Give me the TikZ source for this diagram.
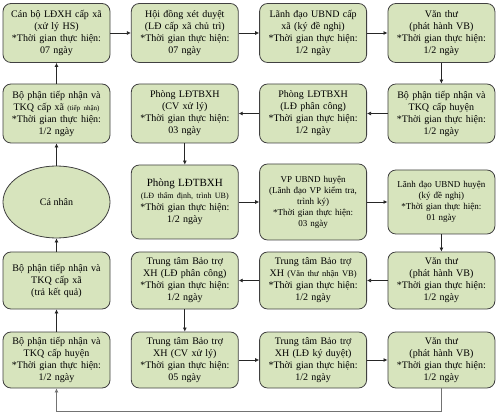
\documentclass[tikz,border=0pt]{standalone}
\usepackage{fontspec}
\setmainfont{Liberation Serif}
\usetikzlibrary{arrows.meta,positioning,shapes.geometric}
\definecolor{boxfill}{RGB}{215,228,189}
\definecolor{boxline}{RGB}{64,64,64}
\newcommand{\subnote}[2]{{\fontsize{#1}{#1}\selectfont #2}}
\newcommand{\thoigian}{{}*Thời gian thực hiện:}

\begin{document}
\begin{tikzpicture}[
    x=1pt, y=-1pt,
    node distance=20.5pt,
    every node/.style={font=\fontsize{10}{12}\selectfont},
    box/.style={draw=boxline, line width=0.8pt, rounded corners=8pt, fill=boxfill, align=center, text width=104pt, minimum width=107pt, minimum height=59pt, inner sep=1pt},
    person/.style={ellipse, draw=boxline, line width=0.8pt, fill=boxfill, minimum width=107pt, minimum height=72pt, inner sep=0pt},
    small/.style={font=\fontsize{9}{11}\selectfont},
    flow/.style={-{Latex[length=4pt,width=4pt]}, line width=0.7pt, draw=black!85},
    giveback/.style={-{Latex[length=4pt,width=4pt]}, line width=1.6pt, draw=black!55}
]
\useasboundingbox (0,0) rectangle (497,419);
% row 1: cap xa
\node[box] (xaCB) at (56.5,33) {Cán bộ LĐXH cấp xã\\(xử lý HS)\\\thoigian\\07 ngày};
\node[box, right=of xaCB] (hoidong) {Hội đồng xét duyệt\\(LĐ cấp xã chủ trì)\\\thoigian\\07 ngày};
\node[box, right=of hoidong] (xaLD) {Lãnh đạo UBND cấp\\xã (ký đề nghị)\\\thoigian\\1/2 ngày};
\node[box, right=of xaLD] (xaVT) {Văn thư\\(phát hành VB)\\\thoigian\\1/2 ngày};
% row 2
\node[box] (xaTN) at (56.5,113.5) {Bộ phận tiếp nhận và\\TKQ cấp xã \subnote{7}{(tiếp nhận)}\\\thoigian\\1/2 ngày};
\node[box, right=of xaTN] (phongCV) {Phòng LĐTBXH\\(CV xử lý)\\\thoigian\\03 ngày};
\node[box, right=of phongCV] (phongLD) {Phòng LĐTBXH\\(LĐ phân công)\\\thoigian\\1/2 ngày};
\node[box, right=of phongLD] (huyenTN) {Bộ phận tiếp nhận và\\TKQ cấp huyện\\\thoigian\\1/2 ngày};
% row 3: cap huyen
\node[person] (canhan) at (56.5,202) {Cá nhân};
\node[box, minimum height=74pt, right=of canhan] (phongTD) {\subnote{11}{Phòng LĐTBXH}\\\subnote{8}{(LĐ thẩm định, trình UB)}\\\thoigian\\1/2 ngày};
\node[box, small, minimum height=76pt, right=of phongTD] (vpUB) {VP UBND huyện\\(Lãnh đạo VP kiểm tra,\\trình ký)\\\thoigian\\03 ngày};
\node[box, small, minimum height=64pt, right=of vpUB] (huyenLD) {Lãnh đạo UBND huyện\\(ký đề nghị)\\\thoigian\\01 ngày};
% row 4
\node[box, minimum height=57pt] (xaTKQ) at (56.5,280.5) {Bộ phận tiếp nhận và\\TKQ cấp xã\\(trả kết quả)};
\node[box, minimum height=57pt, right=of xaTKQ] (ttLD) {Trung tâm Bảo trợ\\XH (LĐ phân công)\\\thoigian\\1/2 ngày};
\node[box, minimum height=57pt, right=of ttLD] (ttVT) {Trung tâm Bảo trợ\\XH \subnote{8.5}{(Văn thư nhận VB)}\\\thoigian\\1/2 ngày};
\node[box, minimum height=57pt, right=of ttVT] (huyenVT) {Văn thư\\(phát hành VB)\\\thoigian\\1/2 ngày};
% row 5: trung tam
\node[box, minimum height=56pt] (huyenTKQ) at (56.5,360) {Bộ phận tiếp nhận và\\TKQ cấp huyện\\\thoigian\\1/2 ngày};
\node[box, minimum height=56pt, right=of huyenTKQ] (ttCV) {Trung tâm Bảo trợ\\XH (CV xử lý)\\\thoigian\\05 ngày};
\node[box, minimum height=56pt, right=of ttCV] (ttKD) {Trung tâm Bảo trợ\\XH (LĐ ký duyệt)\\\thoigian\\1/2 ngày};
\node[box, minimum height=56pt, right=of ttKD] (ttPH) {Văn thư\\(phát hành VB)\\\thoigian\\1/2 ngày};

\draw[flow] (xaCB) -- (hoidong);
\draw[flow] (hoidong) -- (xaLD);
\draw[flow] (xaLD) -- (xaVT);
\draw[flow] (xaVT) -- (huyenTN);
\draw[flow] (huyenTN) -- (phongLD);
\draw[flow] (phongLD) -- (phongCV);
\draw[flow] (phongCV) -- (phongTD);
\draw[flow] (phongTD) -- (vpUB);
\draw[flow] (vpUB) -- (huyenLD);
\draw[flow] (huyenLD) -- (huyenVT);
\draw[flow] (huyenVT) -- (ttVT);
\draw[flow] (ttVT) -- (ttLD);
\draw[flow] (ttLD) -- (ttCV);
\draw[flow] (ttCV) -- (ttKD);
\draw[flow] (ttKD) -- (ttPH);
\draw[giveback] (ttPH.south) -- ++(0,23) -| (huyenTKQ.south);
\draw[flow] (huyenTKQ) -- (xaTKQ);
\draw[flow] (xaTKQ) -- (canhan);
\draw[flow] (canhan) -- (xaTN);
\draw[flow] (xaTN) -- (xaCB);
\end{tikzpicture}
\end{document}
